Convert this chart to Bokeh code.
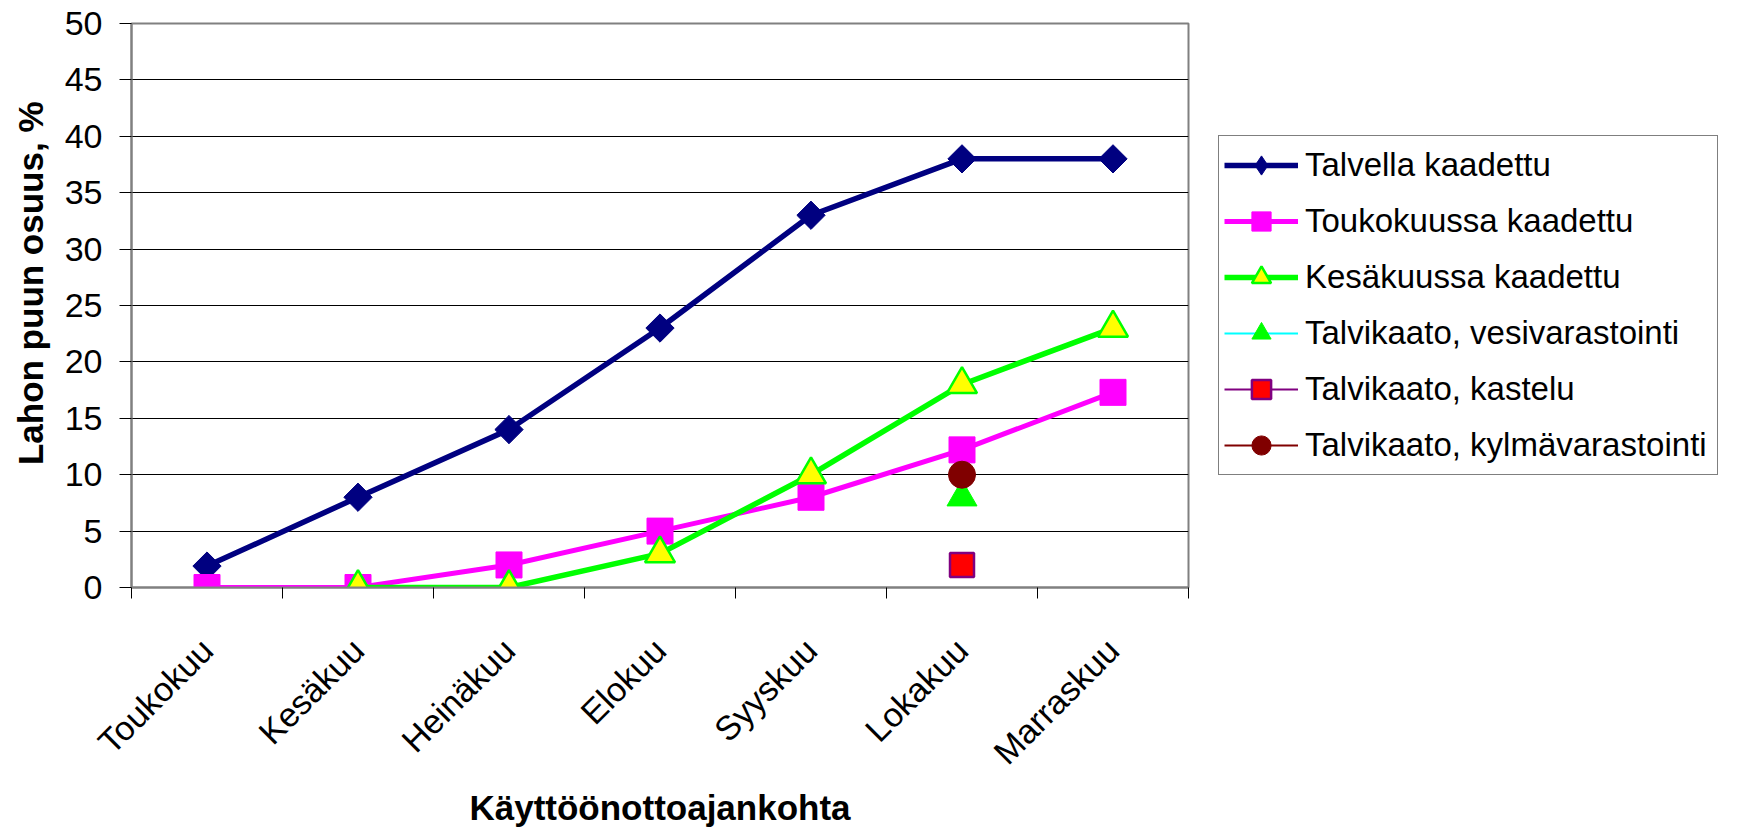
import math
import numpy as np
from bokeh.plotting import figure
from bokeh.models import FixedTicker, Legend, LegendItem, Range1d, Title
from bokeh.embed import file_html
from bokeh.resources import INLINE

# ---- data ----
months = ["Toukokuu", "Kesäkuu", "Heinäkuu", "Elokuu", "Syyskuu", "Lokakuu", "Marraskuu"]
talvella = [1.9, 8, 14, 23, 33, 38, 38]
toukokuussa = [0, 0, 2, 5, 8, 12.2, 17.3]
kesakuussa = [None, 0, 0, 3, 10, 18, 23]
vesivarastointi = [None, None, None, None, None, 8, None]
kastelu = [None, None, None, None, None, 2, None]
kylmavarastointi = [None, None, None, None, None, 10, None]
y_ticks = [0, 5, 10, 15, 20, 25, 30, 35, 40, 45, 50]

names = ["Talvella kaadettu", "Toukokuussa kaadettu", "Kesäkuussa kaadettu",
         "Talvikaato, vesivarastointi", "Talvikaato, kastelu", "Talvikaato, kylmävarastointi"]

FONT = "Liberation Sans"

xs = [i + 0.5 for i in range(len(months))]

def arr(v):
    return np.array(v, dtype=float)

p = figure(frame_width=1057, frame_height=564,
           x_range=Range1d(0, len(months)), y_range=Range1d(0, 50),
           output_backend="svg", toolbar_location=None,
           min_border_left=131, min_border_top=23, min_border_bottom=238, min_border_right=10,
           background_fill_color="white", border_fill_color="white",
           outline_line_color="#808080", outline_line_width=2)

# axes
xa = p.xaxis[0]
xa.ticker = FixedTicker(ticks=xs, minor_ticks=list(range(0, len(months) + 1)))
xa.major_label_overrides = {x: m for x, m in zip(xs, months)}
xa.major_tick_line_color = None
xa.minor_tick_line_color = "black"
xa.minor_tick_out = 11
xa.minor_tick_in = 0
xa.axis_line_color = "#808080"
xa.axis_line_width = 2
xa.major_label_orientation = math.pi / 4
xa.major_label_standoff = 46
xa.major_label_text_font = FONT
xa.major_label_text_font_size = "34px"
xa.major_label_text_color = "black"
xa.axis_label = "Käyttöönottoajankohta"
xa.axis_label_text_font = FONT
xa.axis_label_text_font_style = "bold"
xa.axis_label_text_font_size = "35px"
xa.axis_label_text_color = "black"
xa.axis_label_standoff = 0

ya = p.yaxis[0]
ya.ticker = FixedTicker(ticks=y_ticks)
ya.major_tick_out = 12
ya.major_tick_in = 0
ya.major_tick_line_color = "black"
ya.minor_tick_line_color = None
ya.axis_line_color = "#808080"
ya.axis_line_width = 2
ya.major_label_standoff = 17
ya.major_label_text_font = FONT
ya.major_label_text_font_size = "34px"
ya.major_label_text_color = "black"

# y-axis title as a left-side Title, placed a little above the frame centre like the reference
p.add_layout(Title(text="Lahon puun osuus, %", align="right", offset=78,
                   vertical_align="top",
                   text_font=FONT, text_font_style="bold", text_font_size="35px",
                   text_color="black", standoff=20), "left")

p.xgrid.visible = False
p.ygrid.grid_line_color = "black"
p.ygrid.grid_line_width = 1

x = arr(xs)
nan_x = arr([None])
items = []

# Talvella kaadettu
l1 = p.line(x, arr(talvella), line_color="#000080", line_width=5.5)
s1 = p.scatter(x, arr(talvella), marker="square", angle=math.pi / 4, size=20,
               fill_color="#000080", line_color="#000080")
# diamond used only for the legend swatch (rotated squares are not rotated in legends)
d1 = p.scatter(nan_x, nan_x, marker="diamond", size=20,
               fill_color="#000080", line_color="#000080")
items.append(LegendItem(label=names[0], renderers=[l1, d1]))

# Toukokuussa kaadettu
l2 = p.line(x, arr(toukokuussa), line_color="#FF00FF", line_width=5)
s2 = p.scatter(x, arr(toukokuussa), marker="square", size=26,
               fill_color="#FF00FF", line_color="#FF00FF")
items.append(LegendItem(label=names[1], renderers=[l2, s2]))

# Kesäkuussa kaadettu
l3 = p.line(x, arr(kesakuussa), line_color="#00FF00", line_width=5.5)
s3 = p.scatter(x, arr(kesakuussa), marker="triangle", size=30,
               fill_color="#FFFF00", line_color="#00FF00", line_width=2.5)
items.append(LegendItem(label=names[2], renderers=[l3, s3]))

# Talvikaato, vesivarastointi
l4 = p.line(x, arr(vesivarastointi), line_color="#00FFFF", line_width=2)
s4 = p.scatter(x, arr(vesivarastointi), marker="triangle", size=30,
               fill_color="#00FF00", line_color="#00FF00")
items.append(LegendItem(label=names[3], renderers=[l4, s4]))

# Talvikaato, kastelu
l5 = p.line(x, arr(kastelu), line_color="#800080", line_width=2)
s5 = p.scatter(x, arr(kastelu), marker="square", size=24,
               fill_color="#FF0000", line_color="#800080", line_width=2.5)
items.append(LegendItem(label=names[4], renderers=[l5, s5]))

# Talvikaato, kylmävarastointi
l6 = p.line(x, arr(kylmavarastointi), line_color="#800000", line_width=2)
s6 = p.scatter(x, arr(kylmavarastointi), marker="circle", size=27,
               fill_color="#800000", line_color="#800000")
items.append(LegendItem(label=names[5], renderers=[l6, s6]))

legend = Legend(items=items, location="left", orientation="vertical",
                margin=30, padding=5,
                glyph_width=74, glyph_height=48, label_height=48,
                spacing=8, label_standoff=7, label_width=407,
                label_text_font=FONT, label_text_font_size="33px",
                label_text_color="black",
                border_line_color="black", border_line_width=1.5,
                background_fill_color="white", background_fill_alpha=1.0)
p.add_layout(legend, "right")

open("out.html", "w").write(file_html(p, INLINE))
